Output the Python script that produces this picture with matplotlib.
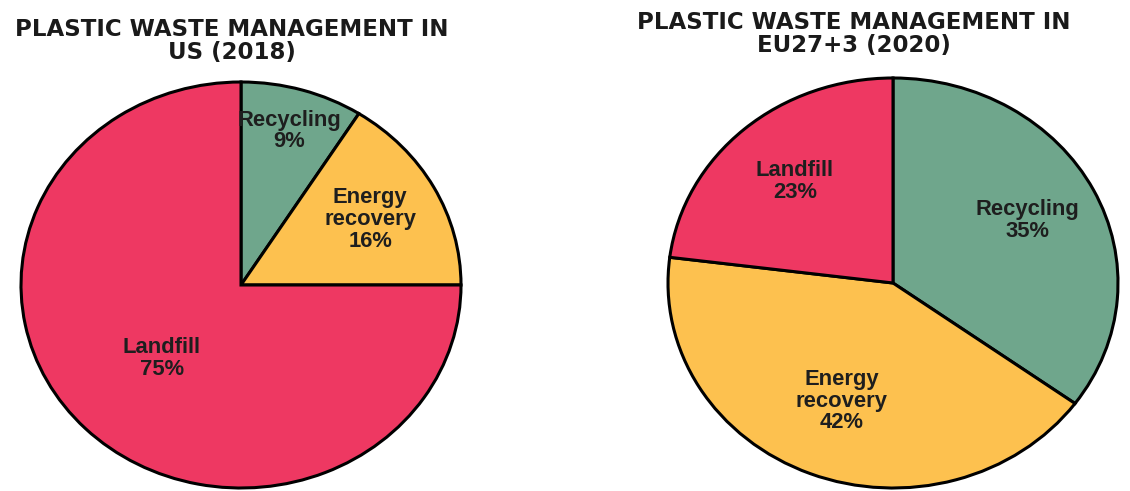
import matplotlib
matplotlib.use("Agg")
import matplotlib.pyplot as plt
import numpy as np

# ---- data ----
us_categories = ["Recycling", "Energy\nrecovery", "Landfill"]
us_values = [9, 16, 75]
eu_categories = ["Recycling", "Energy\nrecovery", "Landfill"]
eu_values = [35, 42, 23]
titles = ["PLASTIC WASTE MANAGEMENT IN\nUS (2018)",
          "PLASTIC WASTE MANAGEMENT IN\nEU27+3 (2020)"]

# ---- style ----
colors = ["#6fa68c", "#fdc14f", "#ee3862"]
W, H = 1130, 491
fig = plt.figure(figsize=(W / 100, H / 100), dpi=100)
fig.patch.set_facecolor("white")

def px_axes(x0, y0, x1, y1):
    return fig.add_axes([x0 / W, 1 - y1 / H, (x1 - x0) / W, (y1 - y0) / H])

label_font = dict(family="Liberation Sans", weight="bold", size=15.8, color="#1e1e1e")

def draw(ax, cats, vals, dists):
    wedges, _ = ax.pie(vals, colors=colors, startangle=90, counterclock=False,
                       radius=1.0,
                       wedgeprops=dict(edgecolor="black", linewidth=2.2, clip_on=False))
    ax.set_aspect("auto")
    ax.set_xlim(-1, 1)
    ax.set_ylim(-1, 1)
    ax.axis("off")
    for w, c, v, d in zip(wedges, cats, vals, dists):
        mid = np.deg2rad((w.theta1 + w.theta2) / 2)
        ax.text(d * np.cos(mid), d * np.sin(mid), f"{c}\n{v}%",
                ha="center", va="center", linespacing=1.05, **label_font)

ax1 = px_axes(21, 82, 461, 488)
draw(ax1, us_categories, us_values, [0.79, 0.67, 0.51])
ax2 = px_axes(668, 78, 1118, 488)
draw(ax2, eu_categories, eu_values, [0.67, 0.62, 0.66])

title_font = dict(family="DejaVu Sans", weight="bold", size=16.5, color="#1a1a1a")
fig.text(232 / W, 1 - 41 / H, titles[0], ha="center", va="center", linespacing=1.0, **title_font)
fig.text(854 / W, 1 - 34 / H, titles[1], ha="center", va="center", linespacing=1.0, **title_font)

fig.savefig("out.png", dpi=100, facecolor="white")
